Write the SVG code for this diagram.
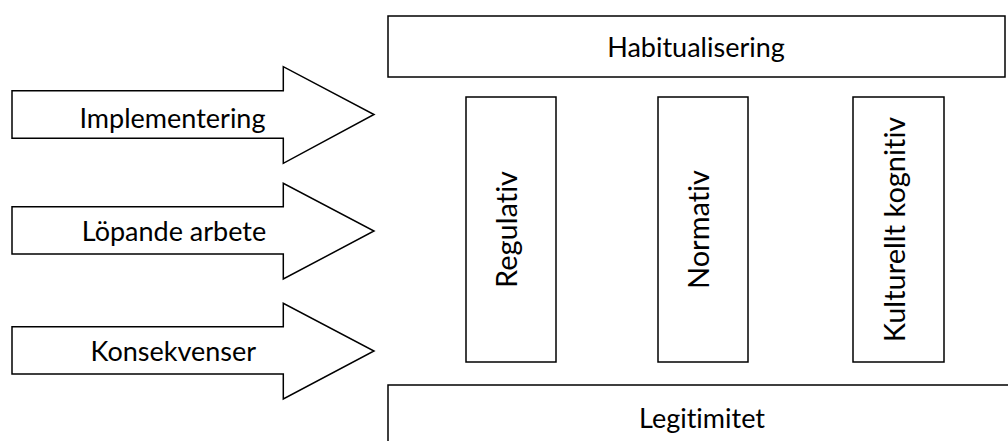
<svg xmlns="http://www.w3.org/2000/svg" width="1008" height="441" viewBox="0 0 1008 441">
<style>
.box{fill:#fff;stroke:#000;stroke-width:1.5}
.arrow{fill:#fff;stroke:#000;stroke-width:1.5;stroke-linejoin:miter}
text{font-family:Lato,"Liberation Sans",sans-serif;font-size:27px;fill:#000;text-anchor:middle;font-variant-ligatures:none;font-feature-settings:"liga" 0,"dlig" 0}
.vert{font-size:29px}
</style>
<rect width="1008" height="441" fill="#fff"/>
<g id="connectors">
<g id="arrow-implementering">
<polygon class="arrow" points="12,90.7 283.3,90.7 283.3,66.7 374,114.5 283.3,163.3 283.3,138.3 12,138.3"/>
<text x="172.5" y="127.5">Implementering</text>
</g>
<g id="arrow-lopande">
<polygon class="arrow" points="12,206.7 283.3,206.7 283.3,183.3 374,231 283.3,279 283.3,254 12,254"/>
<text x="174" y="241">Löpande arbete</text>
</g>
<g id="arrow-konsekvenser">
<polygon class="arrow" points="12,326.7 283.3,326.7 283.3,303.3 374,351 283.3,399 283.3,374 12,374"/>
<text x="173.3" y="361">Konsekvenser</text>
</g>
</g>
<g id="habitualisering">
<rect class="box" x="388" y="16" width="617" height="61"/>
<text x="696" y="56.7">Habitualisering</text>
</g>
<g id="regulativ">
<rect class="box" x="466" y="97" width="90" height="265"/>
<text class="vert" transform="translate(517,229.5) rotate(-90)" x="0" y="0">Regulativ</text>
</g>
<g id="normativ">
<rect class="box" x="658" y="97" width="90" height="265"/>
<text class="vert" transform="translate(709,229.5) rotate(-90)" x="0" y="0">Normativ</text>
</g>
<g id="kulturellt">
<rect class="box" x="853" y="97" width="91" height="265"/>
<text class="vert" transform="translate(905,229.5) rotate(-90)" x="0" y="0">Kulturellt kognitiv</text>
</g>
<g id="legitimitet">
<rect class="box" x="388" y="385" width="630" height="70"/>
<text x="702" y="427.5">Legitimitet</text>
</g>
</svg>
